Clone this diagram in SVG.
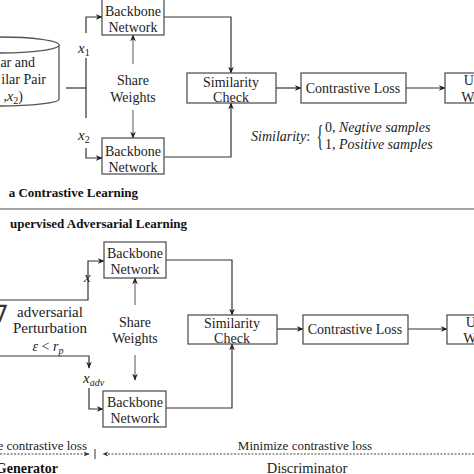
<svg xmlns="http://www.w3.org/2000/svg" width="474" height="474" viewBox="0 0 474 474">
<defs>
<style>
.t{font-family:"Liberation Serif","Times New Roman",serif;font-size:14px;fill:#222;text-anchor:middle}
.m{font-family:"Liberation Serif","Times New Roman",serif;font-style:italic;fill:#222}
.b{font-family:"Liberation Serif","Times New Roman",serif;font-weight:bold;font-size:13px;fill:#111;text-anchor:end}
.box{fill:#fff;stroke:#555;stroke-width:1.3}
.ln{fill:none;stroke:#333;stroke-width:1.2}
.ar{fill:none;stroke:#333;stroke-width:1.2;marker-end:url(#ah)}
.sh{fill:none;stroke:#666;stroke-width:1.1;marker-end:url(#ah)}
.da{fill:none;stroke:#444;stroke-width:1;stroke-dasharray:2 1.5}
</style>
<marker id="ah" viewBox="0 0 10 10" refX="9" refY="5" markerWidth="7" markerHeight="7" markerUnits="userSpaceOnUse" orient="auto">
<path d="M0,1 L10,5 L0,9 L3,5 Z" fill="#222"/>
</marker>
<marker id="ahs" viewBox="0 0 10 10" refX="9" refY="5" markerWidth="6" markerHeight="6" markerUnits="userSpaceOnUse" orient="auto">
<path d="M0,1 L10,5 L0,9 L3,5 Z" fill="#333"/>
</marker>
</defs>
<rect width="474" height="474" fill="#fff"/>

<g id="connectors">
<!-- top section -->
<path class="ar" d="M86,33 V17 H102"/>
<path class="ln" d="M86,58 V118"/>
<path class="ln" d="M66,88 H86"/>
<path class="ar" d="M86,148 V158 H102"/>
<path class="sh" d="M133,64 V35"/>
<path class="sh" d="M133,110 V138"/>
<path class="ar" d="M164,17 H231 V73"/>
<path class="ar" d="M164,157 H231 V103"/>
<path class="ar" d="M276,88 H301"/>
<path class="ar" d="M406,88 H445"/>
<!-- bottom section -->
<path class="ar" d="M0,300 H88 V261 H104"/>
<path class="ar" d="M0,356 H89 V368"/>
<path class="ar" d="M89,388 V409 H103"/>
<path class="sh" d="M135,305 V278"/>
<path class="sh" d="M135,355 V380"/>
<path class="ar" d="M166,260 H232 V315"/>
<path class="ar" d="M166,408 H232 V344"/>
<path class="ar" d="M277,329 H303"/>
<path class="ar" d="M408,329 H447"/>
<!-- min/max dashed -->
<path class="da" d="M0,454 H89" marker-end="url(#ahs)"/>
<path class="ln" d="M95,449 V459" style="stroke-width:1"/>
<path class="da" d="M474,454 H103" marker-end="url(#ahs)"/>
</g>

<g id="separator">
<path d="M0,209 H474" stroke="#888" stroke-width="1.6"/>
</g>

<g id="dataset">
<path class="box" d="M-59,45 V99 A59,7 0 0 0 59,99 V45"/>
<ellipse class="box" cx="0" cy="45" rx="59" ry="8"/>
<text class="t" style="text-anchor:end" x="35" y="67">ar and</text>
<text class="t" style="text-anchor:end" x="46" y="84">ilar Pair</text>
<text class="m" style="font-size:14px;text-anchor:end" x="23" y="101"><tspan font-style="normal">,</tspan>x<tspan font-style="normal" font-size="10" dy="3">2</tspan><tspan font-style="normal" dy="-3">)</tspan></text>
</g>

<g id="label-x1"><text class="m" style="font-size:15px" x="78" y="53">x<tspan font-style="normal" font-size="10" dy="3">1</tspan></text></g>
<g id="label-x2"><text class="m" style="font-size:15px" x="78" y="140">x<tspan font-style="normal" font-size="10" dy="3">2</tspan></text></g>

<g id="backbone-a1">
<rect class="box" x="102" y="-1" width="62" height="36"/>
<text class="t" x="133" y="16">Backbone</text>
<text class="t" x="133" y="32">Network</text>
</g>
<g id="backbone-a2">
<rect class="box" x="102" y="138" width="62" height="36"/>
<text class="t" x="133" y="156">Backbone</text>
<text class="t" x="133" y="172">Network</text>
</g>
<g id="share-a">
<text class="t" x="133" y="85">Share</text>
<text class="t" x="133" y="102">Weights</text>
</g>
<g id="similarity-a">
<rect class="box" x="187" y="73" width="89" height="30"/>
<text class="t" x="231" y="87">Similarity</text>
<text class="t" x="231" y="102">Check</text>
</g>
<g id="loss-a">
<rect class="box" x="301" y="73" width="105" height="30"/>
<text class="t" x="353" y="93">Contrastive Loss</text>
</g>
<g id="update-a">
<rect class="box" x="445" y="73" width="80" height="30"/>
<text class="t" x="484" y="85">Update</text>
<text class="t" x="484" y="102">Weights</text>
</g>
<g id="formula">
<text class="m" style="font-size:14px" x="251" y="141">Similarity<tspan font-style="normal">:</tspan></text>
<text class="t" style="font-size:16px;text-anchor:end" transform="translate(323.5,145) scale(0.9,1.9)" x="0" y="0">{</text>
<text class="m" style="font-size:14px" x="325" y="132"><tspan font-style="normal">0,</tspan> Negtive samples</text>
<text class="m" style="font-size:14px" x="325" y="149"><tspan font-style="normal">1,</tspan> Positive samples</text>
</g>
<g id="title-a"><text class="b" x="138" y="197">a Contrastive Learning</text></g>
<g id="title-b"><text class="b" x="187" y="228">upervised Adversarial Learning</text></g>

<g id="label-x"><text class="m" style="font-size:15px" x="84" y="282">x</text></g>
<g id="perturbation">
<text style="font-family:'DejaVu Sans',sans-serif;font-size:24px;fill:#333;text-anchor:middle" x="-1" y="322">∇</text>
<text class="t" style="font-size:15px" x="50" y="317">adversarial</text>
<text class="t" style="font-size:15px" x="50" y="333">Perturbation</text>
<text class="m" style="font-size:14px;text-anchor:middle" x="48" y="351">ε <tspan font-style="normal">&lt;</tspan> r<tspan font-size="10" dy="3">p</tspan></text>
</g>
<g id="label-xadv"><text class="m" style="font-size:15px" x="83" y="383">x<tspan font-size="10" dy="3">adv</tspan></text></g>

<g id="backbone-b1">
<rect class="box" x="104" y="242" width="62" height="36"/>
<text class="t" x="135" y="258">Backbone</text>
<text class="t" x="135" y="274">Network</text>
</g>
<g id="backbone-b2">
<rect class="box" x="103" y="391" width="63" height="36"/>
<text class="t" x="135" y="407">Backbone</text>
<text class="t" x="135" y="423">Network</text>
</g>
<g id="share-b">
<text class="t" x="135" y="327">Share</text>
<text class="t" x="135" y="343">Weights</text>
</g>
<g id="similarity-b">
<rect class="box" x="188" y="315" width="89" height="29"/>
<text class="t" x="232" y="328">Similarity</text>
<text class="t" x="232" y="343">Check</text>
</g>
<g id="loss-b">
<rect class="box" x="303" y="315" width="105" height="29"/>
<text class="t" x="355" y="334">Contrastive Loss</text>
</g>
<g id="update-b">
<rect class="box" x="447" y="315" width="80" height="29"/>
<text class="t" x="486" y="327">Update</text>
<text class="t" x="486" y="343">Weights</text>
</g>

<g id="objectives">
<text class="t" style="font-size:13px;text-anchor:end" x="87" y="450">e contrastive loss</text>
<text class="t" style="font-size:13px" x="305" y="450">Minimize contrastive loss</text>
<text style="font-family:'Liberation Serif',serif;font-weight:bold;font-size:14px;fill:#111;text-anchor:end" x="58" y="473">Generator</text>
<text class="t" style="font-size:14.5px" x="307" y="473">Discriminator</text>
</g>
</svg>
